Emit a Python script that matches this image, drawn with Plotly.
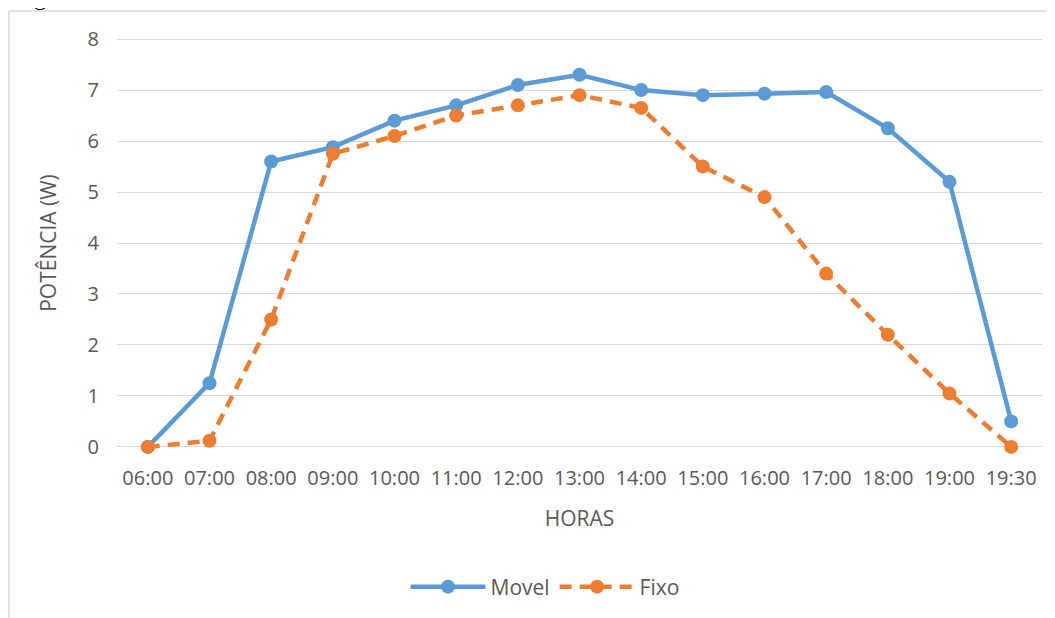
import plotly.graph_objects as go

horas = ["06:00", "07:00", "08:00", "09:00", "10:00", "11:00", "12:00", "13:00",
         "14:00", "15:00", "16:00", "17:00", "18:00", "19:00", "19:30"]
movel = [0, 1.25, 5.6, 5.88, 6.4, 6.7, 7.1, 7.3, 7.0, 6.9, 6.93, 6.96, 6.25, 5.2, 0.5]
fixo = [0, 0.12, 2.5, 5.75, 6.1, 6.5, 6.7, 6.9, 6.65, 5.5, 4.9, 3.4, 2.2, 1.05, 0]
y_ticks = [0, 1, 2, 3, 4, 5, 6, 7, 8]

FONT = "Open Sans, sans-serif"
GRAY = "#595959"

fig = go.Figure()
fig.add_trace(go.Scatter(
    x=horas, y=movel, name="Movel", mode="lines+markers",
    line=dict(color="#5B9BD5", width=4.5),
    marker=dict(color="#5B9BD5", size=14),
    cliponaxis=False,
))
fig.add_trace(go.Scatter(
    x=horas, y=fixo, name="Fixo", mode="lines+markers",
    line=dict(color="#ED7D31", width=4.5, dash="12px,8px"),
    marker=dict(color="#ED7D31", size=14),
    cliponaxis=False,
))

W, H = 1055, 618
L, R, T, B = 109, 21, 26, 174
PW, PH = W - L - R, H - T - B


def px(xf):
    return (xf - L) / PW


def py(yf):
    return (H - B - yf) / PH


fig.update_layout(
    width=W, height=H,
    margin=dict(l=L, r=R, t=T, b=B),
    paper_bgcolor="white", plot_bgcolor="white",
    font=dict(family=FONT, color=GRAY, size=20),
    showlegend=True,
    legend=dict(orientation="h", x=px(537), xanchor="center", y=py(579), yanchor="middle",
                font=dict(size=21, color=GRAY), itemwidth=75),
    xaxis=dict(
        type="category", range=[-0.5, len(horas) - 0.5],
        showgrid=False, zeroline=False, showline=False,
        ticks="", ticklabelstandoff=12,
        tickfont=dict(size=20, color=GRAY),
        title=dict(text="HORAS", font=dict(size=21, color=GRAY), standoff=21),
    ),
    yaxis=dict(
        range=[-0.1, 8.1], tickvals=y_ticks,
        showgrid=True, gridcolor="#D9D9D9", gridwidth=1.3,
        zeroline=False, showline=False, ticks="",
        ticklabelstandoff=17,
        tickfont=dict(size=20, color=GRAY),
        title=dict(text="POTÊNCIA (W)", font=dict(size=21, color=GRAY), standoff=25),
    ),
    shapes=[
        dict(type="line", xref="paper", yref="paper",
             x0=px(1), x1=px(W + 10), y0=py(3), y1=py(3),
             line=dict(color="#D9D9D9", width=1.5)),
        dict(type="line", xref="paper", yref="paper",
             x0=px(1), x1=px(1), y0=py(3), y1=py(H + 10),
             line=dict(color="#D9D9D9", width=1.5)),
    ],
    annotations=[
        dict(text="Figura", xref="paper", yref="paper",
             x=px(4), xanchor="left", y=py(4), yanchor="bottom",
             showarrow=False, font=dict(family="Liberation Serif", size=24, color="black")),
    ],
)

fig.write_html("out.html")
